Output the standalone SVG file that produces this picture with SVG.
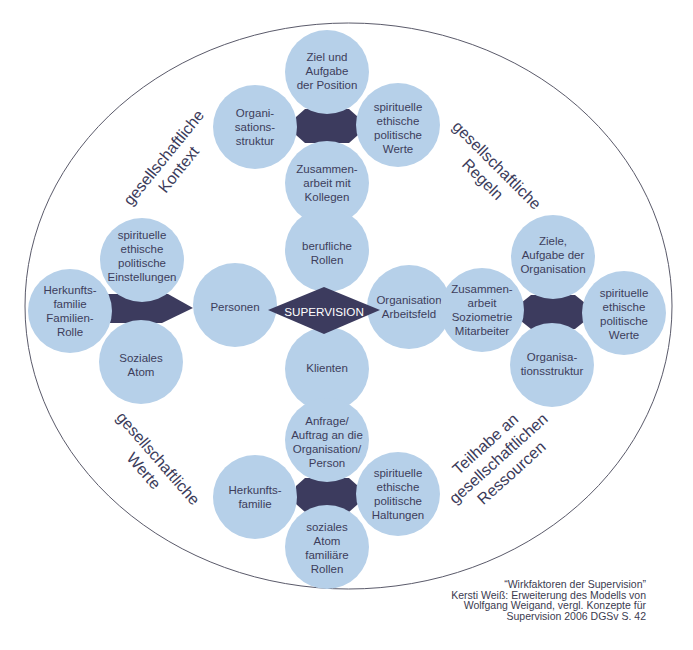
<svg xmlns="http://www.w3.org/2000/svg" width="693" height="650" viewBox="0 0 693 650">
<style>
.c{fill:#b6d0e9}
.d{fill:#3c3b5e}
.t{font-family:"Liberation Sans",Arial,sans-serif;font-size:11.5px;fill:#3d3d5b;text-anchor:middle}
.l{font-family:"Liberation Sans",Arial,sans-serif;font-size:16px;fill:#3b3b5a;text-anchor:middle}
.cap{font-family:"Liberation Sans",Arial,sans-serif;font-size:10.5px;fill:#3b3b50;text-anchor:end}
</style>
<rect width="693" height="650" fill="#ffffff"/>
<ellipse id="frame" cx="348.5" cy="306" rx="323.5" ry="283" fill="none" stroke="#5a5a6a" stroke-width="1"/>
<g id="connectors">
<polygon class="d" points="305,109 349,109 358,117 358,135 349,143 305,143 296,135 296,117"/>
<polygon class="d" points="102,294 168,294 193,308 162,323 102,323"/>
<polygon class="d" points="531,295 575,295 585,303 585,321 575,329 531,329 521,321 521,303"/>
<polygon class="d" points="305,478 349,478 358,486 358,504 349,512 305,512 296,504 296,486"/>
</g>
<g id="n-ziel"><circle class="c" cx="327" cy="72" r="42"/><text class="t" x="327" y="61">Ziel und</text><text class="t" x="327" y="75">Aufgabe</text><text class="t" x="327" y="89">der Position</text></g>
<g id="n-orgstruktur-top"><circle class="c" cx="255" cy="127" r="42"/><text class="t" x="255" y="117">Organi-</text><text class="t" x="255" y="131">sations-</text><text class="t" x="255" y="145">struktur</text></g>
<g id="n-werte-top"><circle class="c" cx="398" cy="125" r="42"/><text class="t" x="398" y="111">spirituelle</text><text class="t" x="398" y="125">ethische</text><text class="t" x="398" y="139">politische</text><text class="t" x="398" y="153">Werte</text></g>
<g id="n-kollegen"><circle class="c" cx="327" cy="183" r="42"/><text class="t" x="327" y="173">Zusammen-</text><text class="t" x="327" y="187">arbeit mit</text><text class="t" x="327" y="201">Kollegen</text></g>
<g id="n-rollen"><circle class="c" cx="327" cy="250" r="42"/><text class="t" x="327" y="250">berufliche</text><text class="t" x="327" y="264">Rollen</text></g>
<g id="n-klienten"><circle class="c" cx="327" cy="369" r="42"/><text class="t" x="327" y="372">Klienten</text></g>
<g id="n-anfrage"><circle class="c" cx="327" cy="440" r="42"/><text class="t" x="327" y="425">Anfrage/</text><text class="t" x="327" y="439">Auftrag an die</text><text class="t" x="327" y="453">Organisation/</text><text class="t" x="327" y="467">Person</text></g>
<g id="n-herkunft-bottom"><circle class="c" cx="255" cy="497" r="42"/><text class="t" x="255" y="494">Herkunfts-</text><text class="t" x="255" y="508">familie</text></g>
<g id="n-haltungen"><circle class="c" cx="398" cy="494" r="42"/><text class="t" x="398" y="477">spirituelle</text><text class="t" x="398" y="491">ethische</text><text class="t" x="398" y="505">politische</text><text class="t" x="398" y="519">Haltungen</text></g>
<g id="n-atom-bottom"><circle class="c" cx="327" cy="547" r="42"/><text class="t" x="327" y="531">soziales</text><text class="t" x="327" y="545">Atom</text><text class="t" x="327" y="559">familiäre</text><text class="t" x="327" y="573">Rollen</text></g>
<g id="n-einstellungen"><circle class="c" cx="142" cy="260" r="42"/><text class="t" x="142" y="239">spirituelle</text><text class="t" x="142" y="253">ethische</text><text class="t" x="142" y="267">politische</text><text class="t" x="142" y="281">Einstellungen</text></g>
<g id="n-herkunft-left"><circle class="c" cx="70" cy="311" r="42"/><text class="t" x="70" y="294">Herkunfts-</text><text class="t" x="70" y="308">familie</text><text class="t" x="70" y="322">Familien-</text><text class="t" x="70" y="336">Rolle</text></g>
<g id="n-atom-left"><circle class="c" cx="141" cy="362" r="42"/><text class="t" x="141" y="362">Soziales</text><text class="t" x="141" y="376">Atom</text></g>
<g id="n-personen"><circle class="c" cx="235" cy="305" r="42"/><text class="t" x="235" y="311">Personen</text></g>
<g id="n-arbeitsfeld"><circle class="c" cx="409" cy="307" r="42"/><text class="t" x="409" y="304">Organisation</text><text class="t" x="409" y="318">Arbeitsfeld</text></g>
<g id="n-mitarbeiter"><circle class="c" cx="482" cy="310" r="42"/><text class="t" x="482" y="293">Zusammen-</text><text class="t" x="482" y="307">arbeit</text><text class="t" x="482" y="321">Soziometrie</text><text class="t" x="482" y="335">Mitarbeiter</text></g>
<g id="n-ziele"><circle class="c" cx="553" cy="257" r="42"/><text class="t" x="553" y="245">Ziele,</text><text class="t" x="553" y="259">Aufgabe der</text><text class="t" x="553" y="273">Organisation</text></g>
<g id="n-werte-right"><circle class="c" cx="624" cy="313" r="42"/><text class="t" x="624" y="297">spirituelle</text><text class="t" x="624" y="311">ethische</text><text class="t" x="624" y="325">politische</text><text class="t" x="624" y="339">Werte</text></g>
<g id="n-orgstruktur-right"><circle class="c" cx="552" cy="365" r="42"/><text class="t" x="552" y="361">Organisa-</text><text class="t" x="552" y="375">tionsstruktur</text></g>
<g id="n-supervision"><polygon class="d" points="268,310 324,287 380,310 324,334"/><text x="324" y="315.5" font-family="Liberation Sans, Arial, sans-serif" font-size="11.7" fill="#ffffff" text-anchor="middle">SUPERVISION</text></g>
<g id="labels">
<g transform="translate(168,161) rotate(-51)"><text class="l" x="0" y="0">gesellschaftliche</text><text class="l" x="0" y="19">Kontext</text></g>
<g transform="translate(493,169) rotate(45)"><text class="l" x="0" y="0">gesellschaftliche</text><text class="l" x="0" y="20">Regeln</text></g>
<g transform="translate(154,462) rotate(49)"><text class="l" x="0" y="0">gesellschaftliche</text><text class="l" x="0" y="19">Werte</text></g>
<g transform="translate(489,448) rotate(-42)"><text class="l" x="0" y="0">Teilhabe an</text><text class="l" x="0" y="19.5">gesellschaftlichen</text><text class="l" x="0" y="39">Ressourcen</text></g>
</g>
<g id="caption">
<text class="cap" x="646" y="588">“Wirkfaktoren der Supervision”</text>
<text class="cap" x="646" y="598.7">Kersti Weiß: Erweiterung des Modells von</text>
<text class="cap" x="646" y="609.4">Wolfgang Weigand, vergl. Konzepte für</text>
<text class="cap" x="646" y="620.1">Supervision 2006 DGSv S. 42</text>
</g>
</svg>
